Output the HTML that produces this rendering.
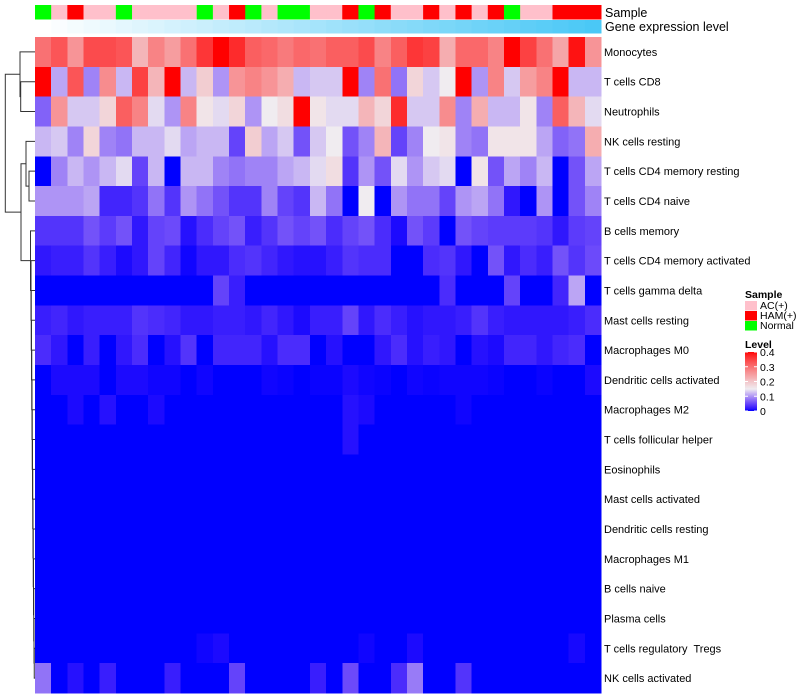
<!DOCTYPE html>
<html><head><meta charset="utf-8"><style>
body{margin:0;background:#fff;}
svg{display:block;font-family:"Liberation Sans",sans-serif;}
</style></head><body>
<svg id="chart" width="800" height="700"></svg>
<script>
const rowLabels=["Monocytes","T cells CD8","Neutrophils","NK cells resting","T cells CD4 memory resting","T cells CD4 naive","B cells memory","T cells CD4 memory activated","T cells gamma delta","Mast cells resting","Macrophages M0","Dendritic cells activated","Macrophages M2","T cells follicular helper","Eosinophils","Mast cells activated","Dendritic cells resting","Macrophages M1","B cells naive","Plasma cells","T cells regulatory  Tregs","NK cells activated"];
const sampleGroups=["N","A","H","A","A","N","A","A","A","A","N","A","H","N","A","N","N","A","A","H","N","H","A","A","H","A","H","A","H","N","A","A","H","H","H"];
const z=new Array(35).fill(0);
const r0=[0.3,0.33,0.26,0.34,0.34,0.33,0.22,0.28,0.25,0.3,0.36,0.4,0.37,0.32,0.31,0.29,0.31,0.3,0.32,0.32,0.34,0.28,0.32,0.36,0.35,0.23,0.31,0.31,0.28,0.4,0.35,0.3,0.24,0.39,0.26];
const r1=[0.4,0.11,0.33,0.09,0.27,0.12,0.35,0.22,0.4,0.12,0.19,0.1,0.26,0.28,0.26,0.23,0.12,0.13,0.13,0.4,0.09,0.3,0.08,0.18,0.13,0.15,0.4,0.1,0.28,0.13,0.25,0.28,0.4,0.12,0.12];
const r2=[0.07,0.26,0.13,0.13,0.18,0.32,0.28,0.14,0.1,0.28,0.16,0.14,0.18,0.1,0.15,0.17,0.4,0.16,0.14,0.14,0.22,0.18,0.37,0.13,0.13,0.27,0.09,0.23,0.12,0.12,0.16,0.09,0.32,0.22,0.14];
const r3=[0.12,0.13,0.09,0.18,0.09,0.08,0.12,0.12,0.14,0.11,0.12,0.12,0.05,0.19,0.11,0.13,0.06,0.13,0.15,0.06,0.09,0.22,0.05,0.09,0.15,0.16,0.09,0.08,0.16,0.16,0.16,0.11,0.07,0.08,0.23];
const r4=[0,0.09,0.12,0.1,0.12,0.14,0.05,0.12,0,0.12,0.12,0.09,0.08,0.09,0.09,0.11,0.12,0.14,0.17,0.04,0.1,0.06,0.14,0.1,0.13,0.14,0,0.16,0.06,0.11,0.09,0.12,0,0.06,0.11];
const r5=[0.1,0.1,0.1,0.11,0.03,0.03,0.04,0.08,0.04,0.1,0.08,0.06,0.04,0.04,0.09,0.05,0.04,0.12,0.08,0,0.15,0,0.1,0.08,0.08,0.05,0.1,0.11,0.08,0.02,0,0.1,0,0.06,0.09];
const r6=[0.04,0.04,0.04,0.06,0.045,0.06,0.02,0.05,0.055,0.015,0.035,0.05,0.06,0.025,0.04,0.06,0.05,0.06,0.035,0.05,0.06,0.035,0.01,0.06,0.045,0,0.06,0.05,0.045,0.045,0.045,0.04,0.02,0.045,0.05];
const r7=[0.02,0.025,0.025,0.04,0.025,0.01,0.02,0.05,0.03,0.005,0.02,0.02,0.035,0.04,0.03,0.02,0.015,0.015,0.025,0.04,0.035,0.035,0,0,0.035,0.04,0.02,0,0.06,0.02,0.035,0.025,0.06,0.04,0.055];
const r8=[0,0,0,0,0,0,0,0,0,0,0,0.05,0.025,0,0,0,0,0,0,0,0,0,0,0,0,0.035,0,0,0,0.05,0,0,0.03,0.11,0];
const r9=[0.025,0.03,0.02,0.025,0.025,0.025,0.04,0.035,0.03,0.02,0.02,0.025,0.025,0.02,0.03,0.02,0.01,0.025,0.025,0.05,0.02,0.035,0.025,0.015,0.02,0.02,0.025,0.04,0.025,0.02,0.02,0.02,0.02,0.025,0.035];
const r10=[0.035,0.02,0,0.025,0,0.02,0.035,0,0.015,0.04,0,0.03,0.03,0.03,0.015,0.035,0.035,0,0.015,0,0,0.02,0.035,0.015,0.025,0.02,0,0.015,0.01,0.03,0.03,0.02,0.03,0.035,0];
const r11=[0,0.01,0.01,0.01,0,0.01,0.01,0.005,0.005,0,0.005,0,0,0,0.005,0.003,0,0.003,0.003,0.01,0.005,0.003,0,0.005,0.003,0.005,0.005,0.005,0.003,0,0,0.003,0,0,0.01];
const r12=[0,0,0.01,0,0.015,0,0,0.01,0,0,0,0,0,0,0,0,0,0,0,0.015,0.01,0,0,0,0,0,0.005,0,0,0,0,0,0,0,0];
const r13=[0,0,0,0,0,0,0,0,0,0,0,0,0,0,0,0,0,0,0,0.015,0,0,0,0,0,0,0,0,0,0,0,0,0,0,0];
const r20=[0,0,0,0,0,0,0,0,0,0,0.005,0.01,0,0,0,0,0,0,0,0,0.005,0,0,0.01,0,0,0,0,0,0,0,0,0,0.008,0];
const r21=[0.08,0,0.015,0,0.025,0,0,0,0.025,0,0,0,0.05,0,0,0,0,0.025,0,0.055,0,0,0.035,0.085,0,0,0.04,0,0,0,0,0,0,0,0];
const matrix=[r0,r1,r2,r3,r4,r5,r6,r7,r8,r9,r10,r11,r12,r13,z,z,z,z,z,z,r20,r21];
const legendTicks=[0,0.1,0.2,0.3,0.4];

const NS="http://www.w3.org/2000/svg";
const svg=document.getElementById('chart');
function el(tag,attrs,parent){const e=document.createElementNS(NS,tag);for(const k in attrs)e.setAttribute(k,attrs[k]);(parent||svg).appendChild(e);return e;}
const nCol=35,nRow=22,x0=35,x1=601,y0=37,y1=693;
const cw=(x1-x0)/nCol,rh=(y1-y0)/nRow;
const xPos=c=>x0+c*cw, yPos=r=>y0+r*rh;
function color(v){
  const m=0.15,mx=0.4;v=Math.max(0,Math.min(mx,v));
  if(v<=m){const t=v/m;return `rgb(${Math.round(240*Math.pow(t,0.8))},${Math.round(236*Math.pow(t,1.15))},${Math.round(255-15*t)})`;}
  const s=(v-m)/(mx-m);const f=Math.pow(1-s,0.8);
  return `rgb(${Math.round(240+15*s)},${Math.round(236*f)},${Math.round(240*f)})`;
}
const sampleColor={A:"#FFC0CB",H:"#FF0000",N:"#00FF00"};
const gA=el('g',{});


sampleGroups.forEach((g,c)=>{
  const r=el('rect',{x:xPos(c),y:5,width:cw+0.5,height:14.5,fill:sampleColor[g]},gA);
  
  
});
const gB=el('g',{});


for(let c=0;c<nCol;c++){
  const t=c/(nCol-1);
  const col=`rgb(${Math.round(255-(255-74)*t)},${Math.round(255-(255-200)*t)},${Math.round(255-(255-246)*t)})`;
  const r=el('rect',{x:xPos(c),y:20,width:cw+0.5,height:13.5,fill:col},gB);
  
  
}
let t1=el('text',{x:605,y:17,'font-size':12.5,fill:'#000'});t1.textContent="Sample";


let t2=el('text',{x:605,y:31,'font-size':12.5,fill:'#000'});t2.textContent="Gene expression level";


const gH=el('g',{'shape-rendering':'crispEdges'});


matrix.forEach((row,r)=>row.forEach((v,c)=>{
  const e=el('rect',{x:xPos(c),y:yPos(r),width:cw+0.6,height:rh+0.6,fill:color(v)},gH);
  
  
}));
rowLabels.forEach((l,r)=>{
  const e=el('text',{x:604,y:yPos(r)+rh/2+4,'font-size':11,fill:'#000','xml:space':'preserve'});
  e.setAttribute('style','white-space:pre');
  e.textContent=l;
  
  
});
const gD=el('g',{stroke:'#333','stroke-width':1,fill:'none'});


const yc=r=>yPos(r)+rh/2;
function node(a,b,h){
  el('path',{d:`M${a.x},${a.y}H${h}V${b.y}H${b.x}`},gD);
  return {x:h,y:(a.y+b.y)/2};
}
const leaf=r=>({x:35,y:yc(r)});
const nCN=node(leaf(1),leaf(2),20.7);
const nTop=node(leaf(0),nCN,20);
const nC4=node(leaf(4),leaf(5),29);
const nNK=node(leaf(3),nC4,26);
let cur=leaf(21);
for(let r=20;r>=7;r--){cur=node(leaf(r),cur,Math.min(34.5,31+(r-7)*0.25));}
const nLow=node(leaf(6),cur,30.5);
const nMid=node(nNK,nLow,21);
node(nTop,nMid,5.3);
const gL=el('g',{});


let lt=el('text',{x:745,y:298,'font-size':10.5,'font-weight':'bold'},gL);lt.textContent="Sample";
[["A","AC(+)"],["H","HAM(+)"],["N","Normal"]].forEach(([k,l],i)=>{
  const s=el('rect',{x:745,y:301+i*10,width:12,height:9.5,fill:sampleColor[k]},gL);
  
  
  const t=el('text',{x:760,y:309+i*10,'font-size':10.5},gL);t.textContent=l;
  
  
});
let lv=el('text',{x:745,y:348,'font-size':10.5,'font-weight':'bold'},gL);lv.textContent="Level";
const by0=352,by1=411;
const lvScale=v=>by1-(v/0.4)*(by1-by0);
for(let i=0;i<60;i++){
  const v=0.4*(i+0.5)/60;
  el('rect',{x:745,y:lvScale(v)-0.6,width:12,height:1.3,fill:color(v),'shape-rendering':'crispEdges'},gL);
}
legendTicks.forEach(v=>{
  el('line',{x1:745,x2:748,y1:lvScale(v),y2:lvScale(v),stroke:'#fff'},gL);
  el('line',{x1:754,x2:757,y1:lvScale(v),y2:lvScale(v),stroke:'#fff'},gL);
  const t=el('text',{x:760,y:lvScale(v)+4,'font-size':10.5},gL);t.textContent=String(v);
  
  
});
</script>
</body></html>
